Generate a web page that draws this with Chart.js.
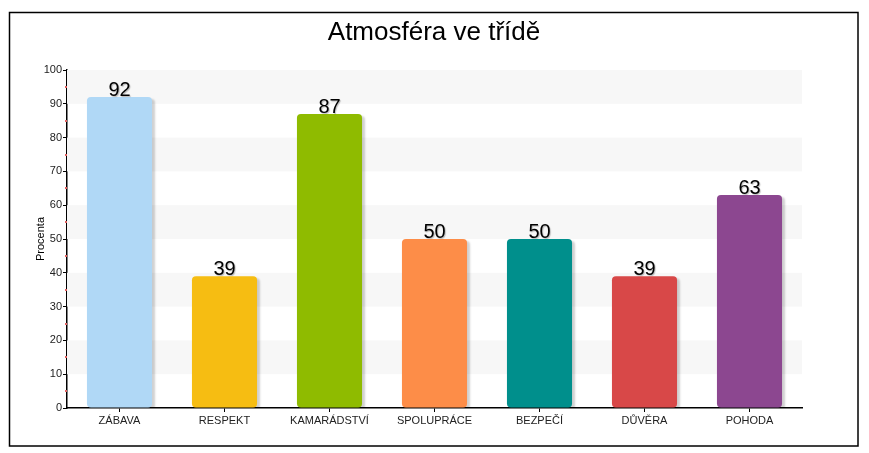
<!DOCTYPE html>
<html>
<head>
<meta charset="utf-8">
<title>Atmosféra ve třídě</title>
<script src="https://cdn.jsdelivr.net/npm/chart.js@4/dist/chart.umd.min.js"></script>
<style>
  html, body { margin: 0; padding: 0; background: #fff; }
  canvas { display: block; }
</style>
</head>
<body>
<canvas id="myChart" width="869" height="453"></canvas>
<script>
'use strict';

// data
var categories = ['ZÁBAVA', 'RESPEKT', 'KAMARÁDSTVÍ', 'SPOLUPRÁCE', 'BEZPEČÍ', 'DŮVĚRA', 'POHODA'];
var values = [92, 39, 87, 50, 50, 39, 63];
var barColors = ['#b0d8f6', '#f6bd12', '#8fbb00', '#fd8d48', '#008f8c', '#d84848', '#8c4790'];
var yTicks = [0, 10, 20, 30, 40, 50, 60, 70, 80, 90, 100];
var chartTitle = 'Atmosféra ve třídě';

var FONT = '"Liberation Sans", Arial, sans-serif';

// outer frame, title, alternating bands, minor ticks
var decorPlugin = {
  id: 'decor',
  beforeDraw: function (chart) {
    var c = chart.ctx;
    c.save();
    c.fillStyle = '#fff';
    c.fillRect(0, 0, chart.width, chart.height);
    c.strokeStyle = '#000';
    c.lineWidth = 1.5;
    c.strokeRect(9.5, 12.5, 848.5, 433.5);
    // title centred on the whole frame, not on the plot
    c.fillStyle = '#000';
    c.font = '26px ' + FONT;
    c.textAlign = 'center';
    c.textBaseline = 'middle';
    c.fillText(chartTitle, 434, 33);
    c.restore();
  },
  beforeDatasetsDraw: function (chart) {
    var c = chart.ctx, y = chart.scales.y, a = chart.chartArea;
    c.save();
    c.fillStyle = '#f7f7f7';
    for (var i = 10; i < 100; i += 20) {
      var top = y.getPixelForValue(i + 10), bot = y.getPixelForValue(i);
      c.fillRect(a.left, top, a.right - a.left, bot - top);
    }
    // minor red ticks at the fives
    c.fillStyle = '#e06060';
    for (var v = 5; v < 100; v += 10) {
      c.fillRect(a.left - 2, Math.round(y.getPixelForValue(v)) - 1, 2, 2);
    }
    c.restore();
  }
};

var shadowPlugin = {
  id: 'barShadow',
  beforeDatasetDraw: function (chart) {
    var c = chart.ctx;
    c.save();
    c.shadowColor = 'rgba(0,0,0,0.18)';
    c.shadowOffsetX = 3;
    c.shadowOffsetY = 2;
    c.shadowBlur = 2;
  },
  afterDatasetDraw: function (chart) {
    chart.ctx.restore();
  }
};

var valueLabels = {
  id: 'valueLabels',
  afterDatasetsDraw: function (chart) {
    var c = chart.ctx;
    var meta = chart.getDatasetMeta(0);
    c.save();
    c.font = '20px ' + FONT;
    c.textAlign = 'center';
    c.textBaseline = 'alphabetic';
    c.shadowColor = 'rgba(0,0,0,0.25)';
    c.shadowOffsetX = 1;
    c.shadowOffsetY = 1;
    c.shadowBlur = 1;
    c.fillStyle = '#000';
    meta.data.forEach(function (bar, i) {
      c.fillText(String(values[i]), bar.x, bar.y - 1);
    });
    c.restore();
  }
};

var ctx = document.getElementById('myChart').getContext('2d');
var chart = new Chart(ctx, {
  type: 'bar',
  data: {
    labels: categories,
    datasets: [{
      data: values,
      backgroundColor: barColors,
      borderRadius: 4,
      borderSkipped: false,
      barPercentage: 0.62,
      categoryPercentage: 1
    }]
  },
  options: {
    responsive: false,
    animation: false,
    layout: { padding: { top: 70, right: 67, bottom: 0, left: 0 } },
    plugins: {
      legend: { display: false },
      tooltip: { enabled: false },
      title: { display: false }
    },
    scales: {
      x: {
        afterFit: function (scale) { scale.height = 45; },
        grid: { offset: false, drawOnChartArea: false, drawTicks: true, tickLength: 4, color: '#000' },
        border: { display: true, color: '#000', width: 1.5 },
        ticks: { color: '#222', font: { family: FONT, size: 11 }, padding: 2, maxRotation: 0, autoSkip: false }
      },
      y: {
        min: 0,
        max: 100,
        afterFit: function (scale) { scale.width = 67; },
        afterBuildTicks: function (scale) {
          scale.ticks = yTicks.map(function (v) { return { value: v }; });
        },
        grid: { drawOnChartArea: false, drawTicks: true, tickLength: 4, color: '#000' },
        border: { display: true, color: '#000', width: 1.5 },
        ticks: { color: '#222', font: { family: FONT, size: 11 }, padding: 1 },
        title: {
          display: true,
          text: 'Procenta',
          color: '#000',
          font: { family: FONT, size: 11 },
          padding: { top: 34, bottom: 0 }
        }
      }
    }
  },
  plugins: [decorPlugin, shadowPlugin, valueLabels]
});
</script>
</body>
</html>
